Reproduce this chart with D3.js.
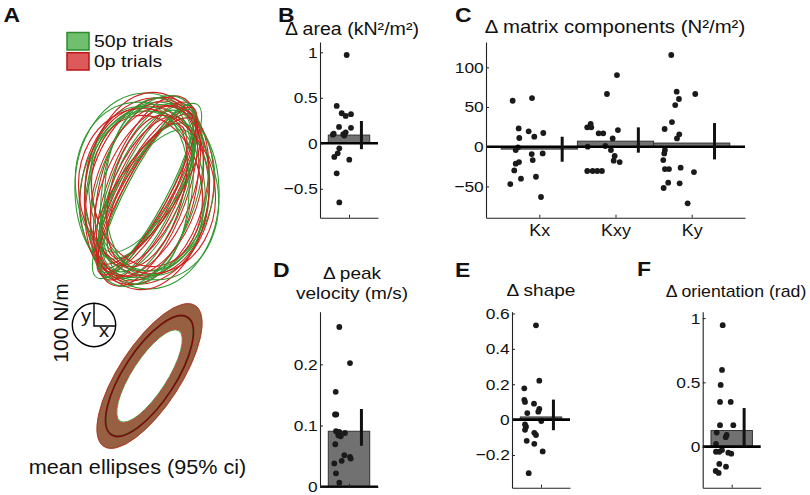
<!DOCTYPE html>
<html><head><meta charset="utf-8">
<script src="https://cdn.jsdelivr.net/npm/d3@7"></script>
<style>
body{margin:0;background:#fff}
svg{display:block}
text{font-family:"Liberation Sans",Arial,Helvetica,sans-serif;fill:#111}
</style>
</head><body>
<svg id="fig" width="810" height="495"></svg>
<script>
// ---------------- DATA ----------------
// Panel A: individual trial stiffness ellipses [major N/m, minor N/m, angle deg]
const ellipses50p = [[452,332,92],[438,138,65],[415,276,78],[461,115,60],[392,253,100],[424,175,70],[369,286,85],[442,101,63],[406,304,75],[359,138,58],[433,207,82],[332,129,55],[415,323,105],[396,161,68],[456,230,72],[369,267,95],[424,92,62],[387,194,88]];
const ellipses0p  = [[442,267,74],[415,129,62],[461,184,70],[392,286,90],[406,111,60],[433,304,80],[369,161,66],[447,147,65],[350,253,98],[424,221,76],[396,138,56],[456,286,84],[341,120,64],[415,207,68],[382,313,100],[438,101,61],[406,240,72],[359,166,75]];
// mean ellipse with 95% ci [major, minor] (N/m), angle deg
const meanAngle = 57;
const mean50p = {inner:[248,80], mean:[320,118], outer:[386,142]};
const mean0p  = {inner:[253,83], mean:[323,120], outer:[387,143]};
const scaleBarNm = 100;

// Panel B: delta area
const areaValues = [0.97,0.41,0.33,0.30,0.32,0.18,0.17,0.105,0.10,0.12,0.085,0.095,-0.055,-0.11,-0.15,-0.18,-0.33,-0.65];
const areaJitter = [-0.056,-0.297,-0.176,-0.08,0.048,-0.241,0.048,-0.369,-0.138,-0.08,-0.113,-0.39,-0.234,-0.273,-0.355,0.007,-0.297,-0.234];
const areaMean = [0.09], areaLo = [-0.065], areaHi = [0.245];

// Panel C: delta matrix components
const matrixCats = ["Kx","Kxy","Ky"];
const kxValues = [57.9,61.3,23.1,19.4,11,12.6,17.3,-4.2,-0.8,-9.2,-8.4,-16.8,-19.3,-21.4,-29.8,-37.8,-40.3,-47,-63.3];
const kxJitter = [-0.35,-0.096,-0.271,-0.14,-0.263,-0.066,0.052,-0.31,-0.28,-0.1,0.044,-0.087,-0.267,-0.31,-0.329,-0.044,-0.241,-0.381,0.022];
const kxyValues = [66.4,90.3,28.6,24.4,24.4,16.9,16.9,21,10.5,0,0.9,-4.2,-11.7,-17.6,-19.3,-30.6,-30.6,-30.6,-30.6];
const kxyJitter = [-0.112,0.019,-0.326,-0.371,-0.318,-0.221,-0.161,0.032,-0.037,-0.365,-0.134,-0.06,-0.011,-0.024,0.055,-0.371,-0.3,-0.239,-0.178];
const kyValues = [115.5,69.3,60.1,52.5,66.4,31.1,22.3,15.6,10.5,-4.2,-8.4,-16.8,-28.1,-28.1,-26.4,-31.9,-45.3,-46.1,-52,-71.3];
const kyJitter = [-0.268,-0.197,-0.167,-0.216,0.047,-0.259,-0.355,-0.163,-0.193,-0.351,-0.36,-0.373,-0.351,-0.298,-0.145,0.03,-0.308,-0.158,-0.368,-0.053];
const matrixMean = [-3,7,4.6], matrixLo = [-18.9,-7.5,-16], matrixHi = [12.6,24.4,29.8];

// Panel D: delta peak velocity
const velValues = [0.261,0.202,0.155,0.118,0.118,0.0906,0.0894,0.0878,0.084,0.0824,0.0694,0.038,0.0218,0.0423,0.0515,0.0488,0.046,0.0065];
const velJitter = [-0.234,0.024,-0.321,-0.338,-0.307,-0.314,-0.234,-0.097,-0.258,-0.2,-0.331,-0.355,-0.314,-0.176,-0.113,0.024,0.041,-0.234];
const velMean = [0.0906], velLo = [0.067], velHi = [0.127];

// Panel E: delta shape
const shapeValues = [0.533,0.22,0.177,0.112,0.1,0.09,0.06,0.045,0.037,-0.008,-0.027,-0.04,-0.058,-0.075,-0.087,-0.12,-0.137,-0.18,-0.303];
const shapeJitter = [-0.121,-0.041,-0.403,-0.403,-0.386,-0.169,-0.041,-0.065,-0.331,0.007,-0.386,-0.362,-0.386,-0.162,-0.121,-0.345,-0.162,0.041,-0.297];
const shapeMean = [0.015], shapeLo = [-0.06], shapeHi = [0.113];

// Panel F: delta orientation
const orientValues = [0.945,0.597,0.48,0.348,0.348,0.167,0.167,0.109,0.091,0.073,0.021,-0.04,-0.04,-0.027,-0.047,-0.055,-0.135,-0.156,-0.19,-0.205];
const orientJitter = [-0.217,-0.234,-0.266,-0.282,-0.024,-0.282,0.039,-0.362,-0.121,-0.145,-0.379,-0.379,-0.299,-0.234,-0.082,-0.01,-0.299,-0.138,-0.386,-0.314];
const orientMean = [0.125], orientLo = [-0.003], orientHi = [0.3];

// tick labels
const areaTicks = [-0.5,0,0.5,1], matrixTicks = [-50,0,50,100], velTicks = [0,0.1,0.2],
      shapeTicks = [-0.2,0,0.2,0.4,0.6], orientTicks = [0,0.5,1];

// ---------------- DRAW ----------------
const SX = 1.12; // horizontal text stretch of the reference
const svg = d3.select("#fig");

function label(g, x, y, s, size, anchor, weight){
  return g.append("text")
    .attr("transform", `translate(${x},${y}) scale(${SX},1)`)
    .attr("text-anchor", anchor || "middle")
    .attr("font-size", size)
    .attr("font-weight", weight || "normal")
    .text(s);
}

function barPanel(cfg){
  const g = svg.append("g");
  const x = d3.scaleLinear().domain(cfg.xDomain).range([cfg.left, cfg.right]);
  const y = d3.scaleLinear().domain(cfg.yDomain).range([cfg.bottom, cfg.top]);
  cfg.means.forEach((m,i)=>{
    const c = i+1;
    g.append("rect").attr("x", x(c-0.5)).attr("width", x(c+0.5)-x(c-0.5))
      .attr("y", Math.min(y(m), y(0))).attr("height", Math.abs(y(m)-y(0)))
      .attr("fill", "#717171").attr("stroke", "#333").attr("stroke-width", 1);
  });
  cfg.sets.forEach((set,i)=>{
    g.selectAll(null).data(set.values).enter().append("circle")
      .attr("cx", (d,j)=>x(i+1+set.jitter[j])).attr("cy", d=>y(d))
      .attr("r", 2.9).attr("fill", "#1a1a1a");
  });
  g.append("line").attr("x1", cfg.left).attr("x2", cfg.right)
    .attr("y1", y(0)).attr("y2", y(0)).attr("stroke", "#000").attr("stroke-width", 2.6);
  cfg.means.forEach((m,i)=>{
    g.append("line").attr("x1", x(i+1.3)).attr("x2", x(i+1.3))
      .attr("y1", y(cfg.lo[i])).attr("y2", y(cfg.hi[i]))
      .attr("stroke", "#111").attr("stroke-width", 3);
  });
  const ya = g.append("g").attr("transform", `translate(${cfg.left},0)`)
    .call(d3.axisLeft(y).tickValues(cfg.yTicks).tickFormat(d3.format(cfg.fmt))
      .tickSize(-3).tickSizeOuter(0).tickPadding(2));
  const cats = cfg.means.map((d,i)=>i+1);
  const xa = g.append("g").attr("transform", `translate(0,${cfg.bottom})`)
    .call(d3.axisBottom(x).tickValues(cats).tickFormat((d,i)=>cfg.catLabels ? cfg.catLabels[i] : "")
      .tickSize(-3).tickSizeOuter(0).tickPadding(7));
  [ya, xa].forEach(a=>{
    a.attr("color", "#222");
    a.select(".domain").attr("stroke-width", 1.1);
    a.selectAll("text").attr("font-size", cfg.tickSize || 15.5).attr("font-family", null)
      .attr("transform", `scale(${SX},1)`).attr("fill", "#111");
  });
  xa.selectAll("text").attr("font-size", 16);
  return g;
}

// Panel B
barPanel({left:320, right:378, top:42, bottom:217.7, xDomain:[0.3,1.7], yDomain:[-0.818,1.113],
  means:areaMean, lo:areaLo, hi:areaHi, sets:[{values:areaValues, jitter:areaJitter}],
  yTicks:areaTicks, fmt:"~g"});
// Panel C
barPanel({left:486, right:745, top:42, bottom:217.7, xDomain:[0.3,3.7], yDomain:[-89.4,131.9],
  means:matrixMean, lo:matrixLo, hi:matrixHi,
  sets:[{values:kxValues, jitter:kxJitter},{values:kxyValues, jitter:kxyJitter},{values:kyValues, jitter:kyJitter}],
  yTicks:matrixTicks, fmt:"~g", catLabels:matrixCats});
// Panel D
barPanel({left:320, right:378, top:311.7, bottom:486.7, xDomain:[0.3,1.7], yDomain:[0,0.286],
  means:velMean, lo:velLo, hi:velHi, sets:[{values:velValues, jitter:velJitter}],
  yTicks:velTicks, fmt:"~g"});
// Panel E
barPanel({left:512, right:570, top:311.7, bottom:487.7, xDomain:[0.3,1.7], yDomain:[-0.385,0.61],
  means:shapeMean, lo:shapeLo, hi:shapeHi, sets:[{values:shapeValues, jitter:shapeJitter}],
  yTicks:shapeTicks, fmt:"~g"});
// Panel F
barPanel({left:702.7, right:760.7, top:311.7, bottom:487.7, xDomain:[0.3,1.7], yDomain:[-0.32,1.05],
  means:orientMean, lo:orientLo, hi:orientHi, sets:[{values:orientValues, jitter:orientJitter}],
  yTicks:orientTicks, fmt:"~g"});

// Titles
label(svg, 352, 34.5, "Δ area (kN²/m²)", 17.5);
label(svg, 615, 33, "Δ matrix components (N²/m²)", 18.2);
label(svg, 352, 279, "Δ peak", 17);
label(svg, 352, 299, "velocity (m/s)", 17);
label(svg, 541, 296, "Δ shape", 17);
label(svg, 736, 297, "Δ orientation (rad)", 15.8);

// Panel letters
[["A",3.5,21.5],["B",278,21.5],["C",455,21.5],["D",273,277],["E",455,277],["F",637,276]]
  .forEach(([s,x,y])=>label(svg, x, y, s, 20.5, "start", "bold"));

// ---------- Panel A ----------
const k = d3.scaleLinear().domain([0,100]).range([0,21.7]); // N/m -> px
const green = "#2f9a2f", red = "#d42020";
// legend
svg.append("rect").attr("x",67).attr("y",32.5).attr("width",22).attr("height",17.5)
  .attr("fill","#6fbf6f").attr("stroke","#2e8b2e").attr("stroke-width",1.5);
svg.append("rect").attr("x",67).attr("y",52.7).attr("width",22).attr("height",17.3)
  .attr("fill","#dc5a5a").attr("stroke","#bb1515").attr("stroke-width",1.5);
label(svg, 94, 46.5, "50p trials", 17.4, "start");
label(svg, 94, 66.5, "0p trials", 17.4, "start");

// ellipse cloud
const cloud = svg.append("g").attr("transform","translate(147,191)");
const n = Math.max(ellipses50p.length, ellipses0p.length);
for(let i=0;i<n;i++){
  [[ellipses50p[i], green],[ellipses0p[i], red]].forEach(([e,c])=>{
    if(!e) return;
    cloud.append("ellipse").attr("rx", k(e[0])).attr("ry", k(e[1]))
      .attr("transform", `rotate(${-e[2]})`)
      .attr("fill","none").attr("stroke", c).attr("stroke-width", 1.1);
  });
}

// mean ellipses with ci ring
function ringPath(o, inn){
  const [a,b] = [k(o[0]),k(o[1])], [c,d] = [k(inn[0]),k(inn[1])];
  return `M${a},0A${a},${b} 0 1 0 ${-a},0A${a},${b} 0 1 0 ${a},0Z` +
         `M${c},0A${c},${d} 0 1 1 ${-c},0A${c},${d} 0 1 1 ${c},0Z`;
}
const mg = svg.append("g").attr("transform", `translate(149.5,376) rotate(${-meanAngle})`);
mg.append("path").attr("d", ringPath(mean50p.outer, mean50p.inner)).attr("fill-rule","evenodd")
  .attr("fill","#288c28").attr("fill-opacity",0.5).attr("stroke","#3c9c3c").attr("stroke-width",0.8);
mg.append("path").attr("d", ringPath(mean0p.outer, mean0p.inner)).attr("fill-rule","evenodd")
  .attr("fill","#9b1c0c").attr("fill-opacity",0.6).attr("stroke","#d03030").attr("stroke-width",0.7);
mg.append("ellipse").attr("rx", k(mean50p.mean[0])).attr("ry", k(mean50p.mean[1]))
  .attr("fill","none").attr("stroke","#2a6a2a").attr("stroke-width",1.1);
mg.append("ellipse").attr("rx", k(mean0p.mean[0])).attr("ry", k(mean0p.mean[1]))
  .attr("fill","none").attr("stroke","#7a0c0c").attr("stroke-width",1.6);

// scale circle
const r = k(scaleBarNm);
const sc = svg.append("g").attr("transform","translate(94,325)");
sc.append("circle").attr("r", r).attr("fill","none").attr("stroke","#000").attr("stroke-width",1.4);
sc.append("polyline").attr("points", `0,${-r} 0,1 ${r},1`).attr("fill","none").attr("stroke","#000").attr("stroke-width",1.4);
label(sc, -8, -3, "y", 18);
label(sc, 10, 12, "x", 18);
svg.append("text").attr("transform","translate(68,323) rotate(-90)").attr("text-anchor","middle")
  .attr("font-size",21).text("100 N/m");
label(svg, 137.5, 474, "mean ellipses (95% ci)", 19.3);
</script>
</body></html>
